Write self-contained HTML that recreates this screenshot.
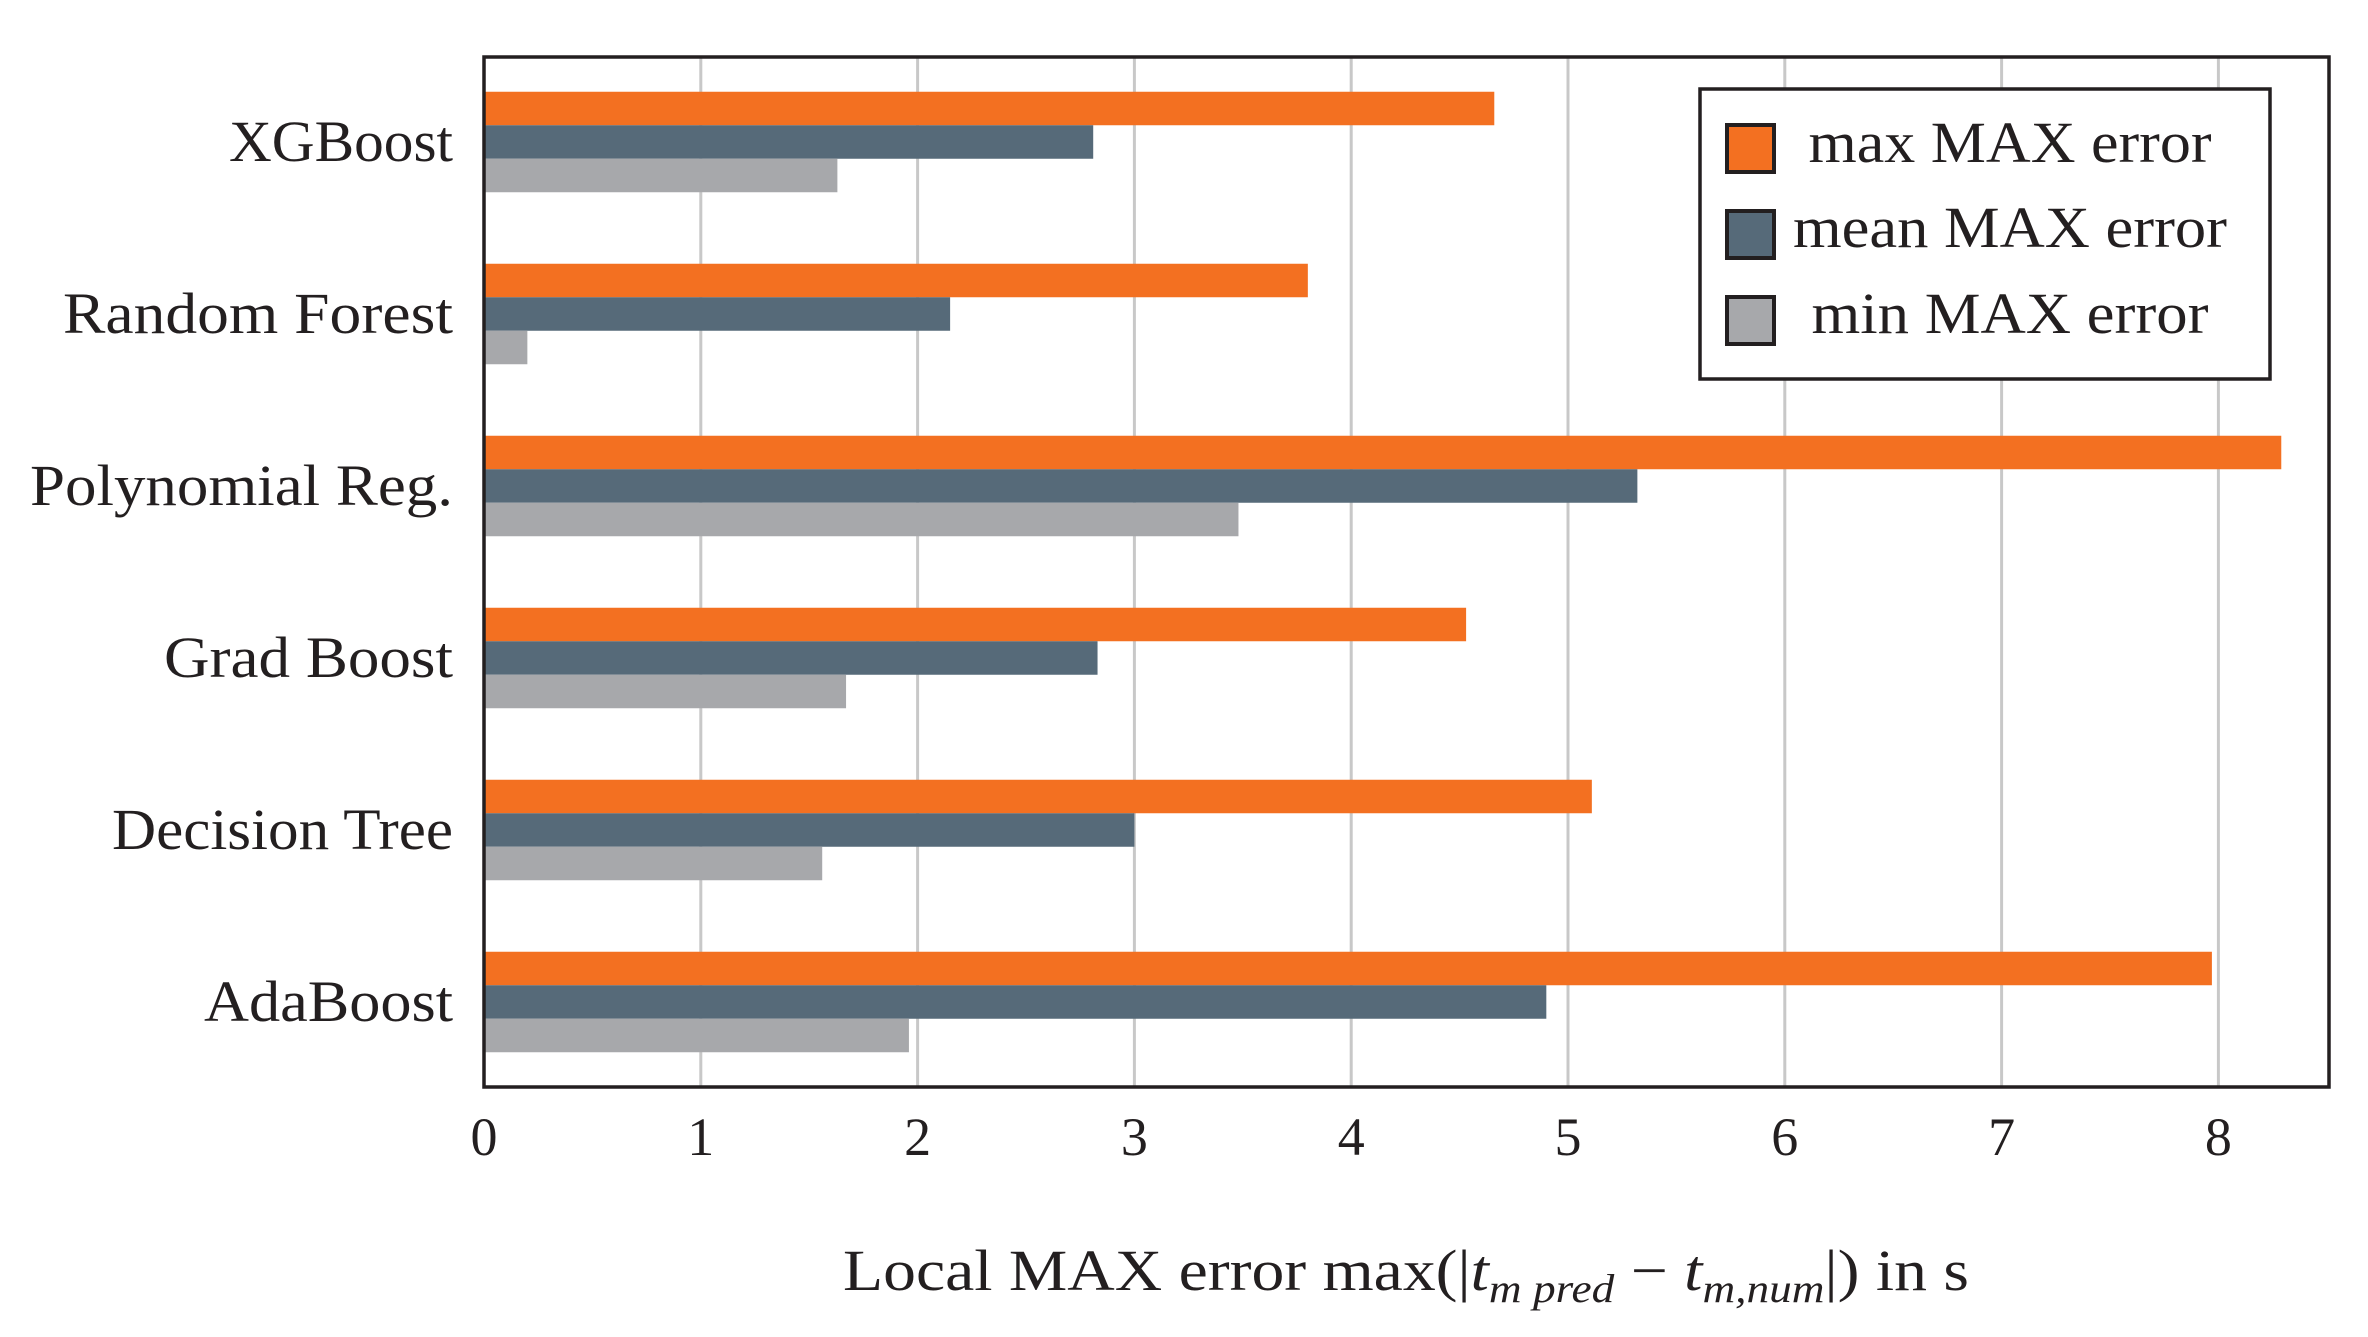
<!DOCTYPE html>
<html><head><meta charset="utf-8"><style>
html,body{margin:0;padding:0;background:#fff;}
svg{display:block;font-family:"Liberation Serif",serif;}
</style></head><body>
<svg id="chart" width="2368" height="1337" viewBox="0 0 2368 1337" xmlns="http://www.w3.org/2000/svg">
<g id="grid"></g>
<g id="bars"></g>
<rect x="484" y="57" width="1845" height="1030" fill="none" stroke="#231f20" stroke-width="3.5"/>
<g id="yl"></g>
<g id="xl"></g>
<text x="843" y="1290" font-size="58" text-anchor="start" textLength="1126" lengthAdjust="spacingAndGlyphs" fill="#231f20">Local MAX error max(|<tspan font-style="italic">t</tspan><tspan font-style="italic" font-size="40" dy="12">m pred</tspan><tspan dy="-12"> − </tspan><tspan font-style="italic">t</tspan><tspan font-style="italic" font-size="40" dy="12">m,num</tspan><tspan dy="-12">|)  in s</tspan></text>
<g>
<rect x="1700" y="89" width="570" height="290" fill="#fff" stroke="#231f20" stroke-width="3.5"/>
<rect x="1727" y="125" width="47" height="47" fill="#f37021" stroke="#231f20" stroke-width="4"/>
<text x="2010" y="162" font-size="58" text-anchor="middle" textLength="403" lengthAdjust="spacingAndGlyphs" fill="#231f20">max MAX error</text>
<rect x="1727" y="211" width="47" height="47" fill="#566a79" stroke="#231f20" stroke-width="4"/>
<text x="2010" y="247" font-size="58" text-anchor="middle" textLength="434" lengthAdjust="spacingAndGlyphs" fill="#231f20">mean MAX error</text>
<rect x="1727" y="297" width="47" height="47" fill="#a7a8ab" stroke="#231f20" stroke-width="4"/>
<text x="2010" y="333" font-size="58" text-anchor="middle" textLength="397" lengthAdjust="spacingAndGlyphs" fill="#231f20">min MAX error</text>
</g>
</svg>
<script>
const categories = ["XGBoost","Random Forest","Polynomial Reg.","Grad Boost","Decision Tree","AdaBoost"];
const maxVals = [4.66, 3.80, 8.29, 4.53, 5.11, 7.97];
const meanVals = [2.81, 2.15, 5.32, 2.83, 3.00, 4.90];
const minVals = [1.63, 0.20, 3.48, 1.67, 1.56, 1.96];
const xTicks = [0,1,2,3,4,5,6,7,8];
const labelWidths = [224, 390, 423, 289, 341, 249];

const NS = "http://www.w3.org/2000/svg";
const X0 = 484, UNIT = 216.8;
function xs(v){ return X0 + v*UNIT; }
function yc(i){ return 142 + i*172; }
const BH = 33.5;
function mk(tag, attrs, parent){
  const e = document.createElementNS(NS, tag);
  for (const k in attrs) e.setAttribute(k, attrs[k]);
  parent.appendChild(e); return e;
}
const grid = document.getElementById('grid');
const xl = document.getElementById('xl');
xTicks.forEach(t => {
  if (t > 0) {
    const l = mk('line', {x1:xs(t), x2:xs(t), y1:57, y2:1087, stroke:'#c8c8c8', 'stroke-width':3}, grid);
    
    
  }
  const tx = mk('text', {x:xs(t), y:1155, 'font-size':54, 'text-anchor':'middle', fill:'#231f20'}, xl);
  tx.textContent = t;
  
  
});
const bars = document.getElementById('bars');
const yl = document.getElementById('yl');
const series = [[maxVals,'#f37021',-1.5,'bar-max'],[meanVals,'#566a79',-0.5,'bar-mean'],[minVals,'#a7a8ab',0.5,'bar-min']];
categories.forEach((c,i) => {
  series.forEach(s => {
    const r = mk('rect', {x:X0, y:yc(i)+s[2]*BH, width:xs(s[0][i])-X0, height:BH, fill:s[1]}, bars);
    
    
  });
  const t = mk('text', {x:453-labelWidths[i], y:yc(i)+19, 'font-size':58, 'text-anchor':'start', textLength:labelWidths[i], lengthAdjust:'spacingAndGlyphs', fill:'#231f20'}, yl);
  t.textContent = c;
  
  
});
</script>
</body></html>
